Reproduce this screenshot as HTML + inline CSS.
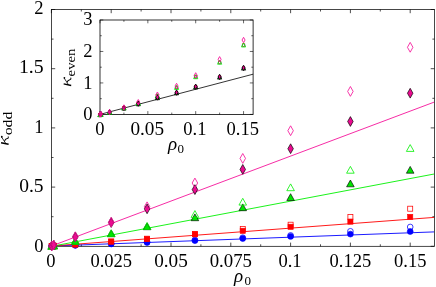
<!DOCTYPE html><html><head><meta charset="utf-8"><style>html,body{margin:0;padding:0;background:#fff}</style></head><body><svg width="436" height="287" viewBox="0 0 436 287" style="display:block;font-family:'Liberation Serif',serif">
<rect width="436" height="287" fill="#fff"/>
<defs><filter id="idf" x="0" y="0" width="436" height="287" filterUnits="userSpaceOnUse" color-interpolation-filters="sRGB"><feOffset dx="0" dy="0"/></filter></defs>
<rect x="51.5" y="9.5" width="382.9" height="236.8" fill="none" stroke="#000" stroke-width="0.72"/>
<path d="M51.40 246.3v-3.7M51.40 9.5v3.7M81.30 246.3v-2M81.30 9.5v2M111.20 246.3v-3.7M111.20 9.5v3.7M141.10 246.3v-2M141.10 9.5v2M171.00 246.3v-3.7M171.00 9.5v3.7M200.90 246.3v-2M200.90 9.5v2M230.80 246.3v-3.7M230.80 9.5v3.7M260.70 246.3v-2M260.70 9.5v2M290.60 246.3v-3.7M290.60 9.5v3.7M320.50 246.3v-2M320.50 9.5v2M350.40 246.3v-3.7M350.40 9.5v3.7M380.30 246.3v-2M380.30 9.5v2M410.20 246.3v-3.7M410.20 9.5v3.7M440.10 246.3v-2M440.10 9.5v2M51.5 246.30h3.7M434.4 246.30h-3.7M51.5 216.70h2M434.4 216.70h-2M51.5 187.10h3.7M434.4 187.10h-3.7M51.5 157.50h2M434.4 157.50h-2M51.5 127.90h3.7M434.4 127.90h-3.7M51.5 98.30h2M434.4 98.30h-2M51.5 68.70h3.7M434.4 68.70h-3.7M51.5 39.10h2M434.4 39.10h-2M51.5 9.50h3.7M434.4 9.50h-3.7" stroke="#000" stroke-width="0.7" fill="none"/>
<clipPath id="c"><rect x="51.5" y="9.5" width="382.9" height="236.8"/></clipPath>
<g clip-path="url(#c)">
<line x1="51.5" y1="246.0" x2="434.2" y2="231.9" stroke="#0000ff" stroke-width="0.9"/>
<line x1="51.5" y1="246.0" x2="434.2" y2="217.4" stroke="#ff0000" stroke-width="0.9"/>
<line x1="51.5" y1="246.35" x2="434.2" y2="174.0" stroke="#00f000" stroke-width="0.9"/>
<line x1="51.5" y1="246.0" x2="434.2" y2="102.1" stroke="#f5149b" stroke-width="0.9"/>
</g>
<circle cx="51.70" cy="246.00" r="2.95" fill="#0000ff" stroke="#0000ff" stroke-width="0.6"/>
<circle cx="53.79" cy="245.90" r="2.95" fill="#0000ff" stroke="#0000ff" stroke-width="0.6"/>
<circle cx="75.32" cy="245.30" r="2.95" fill="#0000ff" stroke="#0000ff" stroke-width="0.6"/>
<circle cx="111.20" cy="243.90" r="2.95" fill="#0000ff" stroke="#0000ff" stroke-width="0.6"/>
<circle cx="147.08" cy="242.40" r="2.95" fill="#0000ff" stroke="#0000ff" stroke-width="0.6"/>
<circle cx="194.92" cy="240.60" r="2.95" fill="#0000ff" stroke="#0000ff" stroke-width="0.6"/>
<circle cx="242.76" cy="238.50" r="2.95" fill="#0000ff" stroke="#0000ff" stroke-width="0.6"/>
<circle cx="290.60" cy="236.40" r="2.95" fill="#0000ff" stroke="#0000ff" stroke-width="0.6"/>
<circle cx="350.40" cy="234.10" r="2.95" fill="#0000ff" stroke="#0000ff" stroke-width="0.6"/>
<circle cx="410.20" cy="231.50" r="2.95" fill="#0000ff" stroke="#0000ff" stroke-width="0.6"/>
<circle cx="51.70" cy="246.00" r="2.85" fill="none" stroke="#0000ff" stroke-width="0.75"/>
<circle cx="53.79" cy="245.90" r="2.85" fill="none" stroke="#0000ff" stroke-width="0.75"/>
<circle cx="75.32" cy="245.30" r="2.85" fill="none" stroke="#0000ff" stroke-width="0.75"/>
<circle cx="111.20" cy="243.80" r="2.85" fill="none" stroke="#0000ff" stroke-width="0.75"/>
<circle cx="147.08" cy="242.20" r="2.85" fill="none" stroke="#0000ff" stroke-width="0.75"/>
<circle cx="194.92" cy="240.00" r="2.85" fill="none" stroke="#0000ff" stroke-width="0.75"/>
<circle cx="242.76" cy="237.70" r="2.85" fill="none" stroke="#0000ff" stroke-width="0.75"/>
<circle cx="290.60" cy="235.40" r="2.85" fill="none" stroke="#0000ff" stroke-width="0.75"/>
<circle cx="350.40" cy="231.30" r="2.85" fill="none" stroke="#0000ff" stroke-width="0.75"/>
<circle cx="410.20" cy="227.00" r="2.85" fill="none" stroke="#0000ff" stroke-width="0.75"/>
<rect x="49.10" y="243.40" width="5.2" height="5.2" fill="#ff0000" stroke="#ff0000" stroke-width="0.6"/>
<rect x="51.19" y="243.20" width="5.2" height="5.2" fill="#ff0000" stroke="#ff0000" stroke-width="0.6"/>
<rect x="72.72" y="241.90" width="5.2" height="5.2" fill="#ff0000" stroke="#ff0000" stroke-width="0.6"/>
<rect x="108.60" y="239.00" width="5.2" height="5.2" fill="#ff0000" stroke="#ff0000" stroke-width="0.6"/>
<rect x="144.48" y="236.40" width="5.2" height="5.2" fill="#ff0000" stroke="#ff0000" stroke-width="0.6"/>
<rect x="192.32" y="231.70" width="5.2" height="5.2" fill="#ff0000" stroke="#ff0000" stroke-width="0.6"/>
<rect x="240.16" y="228.20" width="5.2" height="5.2" fill="#ff0000" stroke="#ff0000" stroke-width="0.6"/>
<rect x="288.00" y="224.20" width="5.2" height="5.2" fill="#ff0000" stroke="#ff0000" stroke-width="0.6"/>
<rect x="347.80" y="219.00" width="5.2" height="5.2" fill="#ff0000" stroke="#ff0000" stroke-width="0.6"/>
<rect x="407.60" y="214.30" width="5.2" height="5.2" fill="#ff0000" stroke="#ff0000" stroke-width="0.6"/>
<rect x="49.20" y="243.50" width="5.0" height="5.0" fill="none" stroke="#ff0000" stroke-width="0.75"/>
<rect x="51.29" y="243.30" width="5.0" height="5.0" fill="none" stroke="#ff0000" stroke-width="0.75"/>
<rect x="72.82" y="242.00" width="5.0" height="5.0" fill="none" stroke="#ff0000" stroke-width="0.75"/>
<rect x="108.70" y="239.00" width="5.0" height="5.0" fill="none" stroke="#ff0000" stroke-width="0.75"/>
<rect x="144.58" y="236.20" width="5.0" height="5.0" fill="none" stroke="#ff0000" stroke-width="0.75"/>
<rect x="192.42" y="231.40" width="5.0" height="5.0" fill="none" stroke="#ff0000" stroke-width="0.75"/>
<rect x="240.26" y="226.50" width="5.0" height="5.0" fill="none" stroke="#ff0000" stroke-width="0.75"/>
<rect x="288.10" y="222.20" width="5.0" height="5.0" fill="none" stroke="#ff0000" stroke-width="0.75"/>
<rect x="347.90" y="214.50" width="5.0" height="5.0" fill="none" stroke="#ff0000" stroke-width="0.75"/>
<rect x="407.70" y="206.20" width="5.0" height="5.0" fill="none" stroke="#ff0000" stroke-width="0.75"/>
<path d="M51.70 242.50L55.50 249.30L47.90 249.30Z" fill="#00e400" stroke="#000" stroke-width="0.65"/>
<path d="M53.79 242.10L57.59 248.90L49.99 248.90Z" fill="#00e400" stroke="#000" stroke-width="0.65"/>
<path d="M75.32 237.60L79.12 244.40L71.52 244.40Z" fill="#00e400" stroke="#000" stroke-width="0.65"/>
<path d="M111.20 229.90L115.00 236.70L107.40 236.70Z" fill="#00e400" stroke="#000" stroke-width="0.65"/>
<path d="M147.08 222.90L150.88 229.70L143.28 229.70Z" fill="#00e400" stroke="#000" stroke-width="0.65"/>
<path d="M194.92 213.90L198.72 220.70L191.12 220.70Z" fill="#00e400" stroke="#000" stroke-width="0.65"/>
<path d="M242.76 203.90L246.56 210.70L238.96 210.70Z" fill="#00e400" stroke="#000" stroke-width="0.65"/>
<path d="M290.60 193.70L294.40 200.50L286.80 200.50Z" fill="#00e400" stroke="#000" stroke-width="0.65"/>
<path d="M350.40 180.00L354.20 186.80L346.60 186.80Z" fill="#00e400" stroke="#000" stroke-width="0.65"/>
<path d="M410.20 166.40L414.00 173.20L406.40 173.20Z" fill="#00e400" stroke="#000" stroke-width="0.65"/>
<path d="M51.70 242.50L55.50 249.30L47.90 249.30Z" fill="none" stroke="#00f000" stroke-width="0.8"/>
<path d="M53.79 242.10L57.59 248.90L49.99 248.90Z" fill="none" stroke="#00f000" stroke-width="0.8"/>
<path d="M75.32 237.60L79.12 244.40L71.52 244.40Z" fill="none" stroke="#00f000" stroke-width="0.8"/>
<path d="M111.20 229.80L115.00 236.60L107.40 236.60Z" fill="none" stroke="#00f000" stroke-width="0.8"/>
<path d="M147.08 222.50L150.88 229.30L143.28 229.30Z" fill="none" stroke="#00f000" stroke-width="0.8"/>
<path d="M194.92 210.60L198.72 217.40L191.12 217.40Z" fill="none" stroke="#00f000" stroke-width="0.8"/>
<path d="M242.76 198.30L246.56 205.10L238.96 205.10Z" fill="none" stroke="#00f000" stroke-width="0.8"/>
<path d="M290.60 183.90L294.40 190.70L286.80 190.70Z" fill="none" stroke="#00f000" stroke-width="0.8"/>
<path d="M350.40 166.40L354.20 173.20L346.60 173.20Z" fill="none" stroke="#00f000" stroke-width="0.8"/>
<path d="M410.20 144.60L414.00 151.40L406.40 151.40Z" fill="none" stroke="#00f000" stroke-width="0.8"/>
<path d="M51.70 241.10L54.45 246.00L51.70 250.90L48.95 246.00Z" fill="#eb0a91" stroke="#000" stroke-width="0.68"/>
<path d="M53.79 240.20L56.54 245.10L53.79 250.00L51.04 245.10Z" fill="#eb0a91" stroke="#000" stroke-width="0.68"/>
<path d="M75.32 232.00L78.07 236.90L75.32 241.80L72.57 236.90Z" fill="#eb0a91" stroke="#000" stroke-width="0.68"/>
<path d="M111.20 217.60L113.95 222.50L111.20 227.40L108.45 222.50Z" fill="#eb0a91" stroke="#000" stroke-width="0.68"/>
<path d="M147.08 203.90L149.83 208.80L147.08 213.70L144.33 208.80Z" fill="#eb0a91" stroke="#000" stroke-width="0.68"/>
<path d="M194.92 184.70L197.67 189.60L194.92 194.50L192.17 189.60Z" fill="#eb0a91" stroke="#000" stroke-width="0.68"/>
<path d="M242.76 164.50L245.51 169.40L242.76 174.30L240.01 169.40Z" fill="#eb0a91" stroke="#000" stroke-width="0.68"/>
<path d="M290.60 143.80L293.35 148.70L290.60 153.60L287.85 148.70Z" fill="#eb0a91" stroke="#000" stroke-width="0.68"/>
<path d="M350.40 116.60L353.15 121.50L350.40 126.40L347.65 121.50Z" fill="#eb0a91" stroke="#000" stroke-width="0.68"/>
<path d="M410.20 88.30L412.95 93.20L410.20 98.10L407.45 93.20Z" fill="#eb0a91" stroke="#000" stroke-width="0.68"/>
<path d="M51.70 241.10L54.45 246.00L51.70 250.90L48.95 246.00Z" fill="none" stroke="#f5149b" stroke-width="0.85"/>
<path d="M53.79 240.20L56.54 245.10L53.79 250.00L51.04 245.10Z" fill="none" stroke="#f5149b" stroke-width="0.85"/>
<path d="M75.32 231.80L78.07 236.70L75.32 241.60L72.57 236.70Z" fill="none" stroke="#f5149b" stroke-width="0.85"/>
<path d="M111.20 217.30L113.95 222.20L111.20 227.10L108.45 222.20Z" fill="none" stroke="#f5149b" stroke-width="0.85"/>
<path d="M147.08 201.90L149.83 206.80L147.08 211.70L144.33 206.80Z" fill="none" stroke="#f5149b" stroke-width="0.85"/>
<path d="M194.92 178.10L197.67 183.00L194.92 187.90L192.17 183.00Z" fill="none" stroke="#f5149b" stroke-width="0.85"/>
<path d="M242.76 153.50L245.51 158.40L242.76 163.30L240.01 158.40Z" fill="none" stroke="#f5149b" stroke-width="0.85"/>
<path d="M290.60 125.80L293.35 130.70L290.60 135.60L287.85 130.70Z" fill="none" stroke="#f5149b" stroke-width="0.85"/>
<path d="M350.40 86.50L353.15 91.40L350.40 96.30L347.65 91.40Z" fill="none" stroke="#f5149b" stroke-width="0.85"/>
<path d="M410.20 42.40L412.95 47.30L410.20 52.20L407.45 47.30Z" fill="none" stroke="#f5149b" stroke-width="0.85"/>
<g filter="url(#idf)">
<text x="50.80" y="267.40" font-size="18.5" text-anchor="middle" >0</text>
<text x="111.20" y="267.40" font-size="18.5" text-anchor="middle" >0.025</text>
<text x="171.00" y="267.40" font-size="18.5" text-anchor="middle" textLength="33.6" lengthAdjust="spacingAndGlyphs">0.05</text>
<text x="230.80" y="267.40" font-size="18.5" text-anchor="middle" textLength="42.3" lengthAdjust="spacingAndGlyphs">0.075</text>
<text x="290.00" y="267.40" font-size="18.5" text-anchor="middle" >0.1</text>
<text x="350.40" y="267.40" font-size="18.5" text-anchor="middle" >0.125</text>
<text x="410.20" y="267.40" font-size="18.5" text-anchor="middle" >0.15</text>
<text x="43.60" y="251.50" font-size="18.5" text-anchor="end" >0</text>
<text x="43.60" y="192.10" font-size="18.5" text-anchor="end" textLength="24.4" lengthAdjust="spacingAndGlyphs">0.5</text>
<text x="43.60" y="132.90" font-size="18.5" text-anchor="end" >1</text>
<text x="43.60" y="73.20" font-size="18.5" text-anchor="end" textLength="24.7" lengthAdjust="spacingAndGlyphs">1.5</text>
<text x="43.60" y="13.70" font-size="18.5" text-anchor="end" >2</text>
<text x="234" y="282" font-size="19" font-style="italic">ρ</text><text x="244.5" y="285" font-size="13">0</text>
<g transform="translate(8.6,144.9) rotate(-90)"><g transform="scale(1.13,1.03)"><path d="M1.9 -7.3L0.5 0" stroke="#000" stroke-width="1.3" fill="none"/><path d="M1.2 -2.7L7.1 -6.9" stroke="#000" stroke-width="0.75" fill="none"/><circle cx="7.2" cy="-6.6" r="0.85" fill="#000"/><path d="M3.2 -4.0Q5.3 -3.4 5.6 -1.4Q5.9 0.2 7.4 -0.5" stroke="#000" stroke-width="0.95" fill="none"/></g><text x="9.6" y="3.4" font-size="12.3" textLength="23.6" lengthAdjust="spacingAndGlyphs">odd</text></g>
</g>
<rect x="100.0" y="20.0" width="153.1" height="94.4" fill="#fff" stroke="#000" stroke-width="0.8"/>
<path d="M100.00 114.4v-3.3M100.00 20.0v3.3M123.92 114.4v-1.8M123.92 20.0v1.8M147.85 114.4v-3.3M147.85 20.0v3.3M171.78 114.4v-1.8M171.78 20.0v1.8M195.70 114.4v-3.3M195.70 20.0v3.3M219.62 114.4v-1.8M219.62 20.0v1.8M243.55 114.4v-3.3M243.55 20.0v3.3M100.0 114.40h3.3M253.1 114.40h-3.3M100.0 98.67h1.8M253.1 98.67h-1.8M100.0 82.93h3.3M253.1 82.93h-3.3M100.0 67.20h1.8M253.1 67.20h-1.8M100.0 51.46h3.3M253.1 51.46h-3.3M100.0 35.73h1.8M253.1 35.73h-1.8M100.0 19.99h3.3M253.1 19.99h-3.3" stroke="#000" stroke-width="0.6" fill="none"/>
<line x1="100.0" y1="114.4" x2="253.1" y2="74.2" stroke="#000" stroke-width="0.8"/>
<circle cx="100.00" cy="114.80" r="1.4" fill="#0000ff" stroke="#0000ff" stroke-width="0.5"/>
<circle cx="100.96" cy="114.55" r="1.4" fill="#0000ff" stroke="#0000ff" stroke-width="0.5"/>
<circle cx="109.57" cy="112.50" r="1.4" fill="#0000ff" stroke="#0000ff" stroke-width="0.5"/>
<circle cx="123.92" cy="108.30" r="1.4" fill="#0000ff" stroke="#0000ff" stroke-width="0.5"/>
<circle cx="138.28" cy="104.00" r="1.4" fill="#0000ff" stroke="#0000ff" stroke-width="0.5"/>
<circle cx="157.42" cy="97.90" r="1.4" fill="#0000ff" stroke="#0000ff" stroke-width="0.5"/>
<circle cx="176.56" cy="93.00" r="1.4" fill="#0000ff" stroke="#0000ff" stroke-width="0.5"/>
<circle cx="195.70" cy="87.10" r="1.4" fill="#0000ff" stroke="#0000ff" stroke-width="0.5"/>
<circle cx="219.62" cy="77.30" r="1.4" fill="#0000ff" stroke="#0000ff" stroke-width="0.5"/>
<circle cx="243.55" cy="68.30" r="1.4" fill="#0000ff" stroke="#0000ff" stroke-width="0.5"/>
<circle cx="100.00" cy="114.80" r="1.4" fill="none" stroke="#0000ff" stroke-width="0.5"/>
<circle cx="100.96" cy="114.55" r="1.4" fill="none" stroke="#0000ff" stroke-width="0.5"/>
<circle cx="109.57" cy="112.40" r="1.4" fill="none" stroke="#0000ff" stroke-width="0.5"/>
<circle cx="123.92" cy="108.00" r="1.4" fill="none" stroke="#0000ff" stroke-width="0.5"/>
<circle cx="138.28" cy="103.20" r="1.4" fill="none" stroke="#0000ff" stroke-width="0.5"/>
<circle cx="157.42" cy="95.90" r="1.4" fill="none" stroke="#0000ff" stroke-width="0.5"/>
<circle cx="176.56" cy="87.60" r="1.4" fill="none" stroke="#0000ff" stroke-width="0.5"/>
<circle cx="195.70" cy="76.90" r="1.4" fill="none" stroke="#0000ff" stroke-width="0.5"/>
<circle cx="219.62" cy="62.40" r="1.4" fill="none" stroke="#0000ff" stroke-width="0.5"/>
<circle cx="243.55" cy="45.15" r="1.4" fill="none" stroke="#0000ff" stroke-width="0.5"/>
<rect x="98.70" y="113.40" width="2.6" height="2.6" fill="#ff0000" stroke="#ff0000" stroke-width="0.5"/>
<rect x="99.66" y="113.15" width="2.6" height="2.6" fill="#ff0000" stroke="#ff0000" stroke-width="0.5"/>
<rect x="108.27" y="111.10" width="2.6" height="2.6" fill="#ff0000" stroke="#ff0000" stroke-width="0.5"/>
<rect x="122.62" y="106.90" width="2.6" height="2.6" fill="#ff0000" stroke="#ff0000" stroke-width="0.5"/>
<rect x="136.98" y="102.60" width="2.6" height="2.6" fill="#ff0000" stroke="#ff0000" stroke-width="0.5"/>
<rect x="156.12" y="96.50" width="2.6" height="2.6" fill="#ff0000" stroke="#ff0000" stroke-width="0.5"/>
<rect x="175.26" y="91.60" width="2.6" height="2.6" fill="#ff0000" stroke="#ff0000" stroke-width="0.5"/>
<rect x="194.40" y="85.70" width="2.6" height="2.6" fill="#ff0000" stroke="#ff0000" stroke-width="0.5"/>
<rect x="218.32" y="75.90" width="2.6" height="2.6" fill="#ff0000" stroke="#ff0000" stroke-width="0.5"/>
<rect x="242.25" y="66.90" width="2.6" height="2.6" fill="#ff0000" stroke="#ff0000" stroke-width="0.5"/>
<rect x="98.70" y="113.40" width="2.6" height="2.6" fill="none" stroke="#ff0000" stroke-width="0.5"/>
<rect x="99.66" y="113.15" width="2.6" height="2.6" fill="none" stroke="#ff0000" stroke-width="0.5"/>
<rect x="108.27" y="111.00" width="2.6" height="2.6" fill="none" stroke="#ff0000" stroke-width="0.5"/>
<rect x="122.62" y="106.60" width="2.6" height="2.6" fill="none" stroke="#ff0000" stroke-width="0.5"/>
<rect x="136.98" y="101.80" width="2.6" height="2.6" fill="none" stroke="#ff0000" stroke-width="0.5"/>
<rect x="156.12" y="94.50" width="2.6" height="2.6" fill="none" stroke="#ff0000" stroke-width="0.5"/>
<rect x="175.26" y="86.20" width="2.6" height="2.6" fill="none" stroke="#ff0000" stroke-width="0.5"/>
<rect x="194.40" y="75.50" width="2.6" height="2.6" fill="none" stroke="#ff0000" stroke-width="0.5"/>
<rect x="218.32" y="61.00" width="2.6" height="2.6" fill="none" stroke="#ff0000" stroke-width="0.5"/>
<rect x="242.25" y="43.75" width="2.6" height="2.6" fill="none" stroke="#ff0000" stroke-width="0.5"/>
<path d="M100.00 112.60L102.10 116.60L97.90 116.60Z" fill="#00e400" stroke="#000" stroke-width="0.8"/>
<path d="M100.96 112.35L103.06 116.35L98.86 116.35Z" fill="#00e400" stroke="#000" stroke-width="0.8"/>
<path d="M109.57 110.30L111.67 114.30L107.47 114.30Z" fill="#00e400" stroke="#000" stroke-width="0.8"/>
<path d="M123.92 106.10L126.02 110.10L121.83 110.10Z" fill="#00e400" stroke="#000" stroke-width="0.8"/>
<path d="M138.28 101.80L140.38 105.80L136.18 105.80Z" fill="#00e400" stroke="#000" stroke-width="0.8"/>
<path d="M157.42 95.70L159.52 99.70L155.32 99.70Z" fill="#00e400" stroke="#000" stroke-width="0.8"/>
<path d="M176.56 90.80L178.66 94.80L174.46 94.80Z" fill="#00e400" stroke="#000" stroke-width="0.8"/>
<path d="M195.70 84.90L197.80 88.90L193.60 88.90Z" fill="#00e400" stroke="#000" stroke-width="0.8"/>
<path d="M219.62 75.10L221.72 79.10L217.53 79.10Z" fill="#00e400" stroke="#000" stroke-width="0.8"/>
<path d="M243.55 66.10L245.65 70.10L241.45 70.10Z" fill="#00e400" stroke="#000" stroke-width="0.8"/>
<path d="M100.00 112.60L102.10 116.60L97.90 116.60Z" fill="none" stroke="#00f000" stroke-width="0.85"/>
<path d="M100.96 112.35L103.06 116.35L98.86 116.35Z" fill="none" stroke="#00f000" stroke-width="0.85"/>
<path d="M109.57 110.20L111.67 114.20L107.47 114.20Z" fill="none" stroke="#00f000" stroke-width="0.85"/>
<path d="M123.92 105.80L126.02 109.80L121.83 109.80Z" fill="none" stroke="#00f000" stroke-width="0.85"/>
<path d="M138.28 101.00L140.38 105.00L136.18 105.00Z" fill="none" stroke="#00f000" stroke-width="0.85"/>
<path d="M157.42 93.70L159.52 97.70L155.32 97.70Z" fill="none" stroke="#00f000" stroke-width="0.85"/>
<path d="M176.56 85.40L178.66 89.40L174.46 89.40Z" fill="none" stroke="#00f000" stroke-width="0.85"/>
<path d="M195.70 74.70L197.80 78.70L193.60 78.70Z" fill="none" stroke="#00f000" stroke-width="0.85"/>
<path d="M219.62 60.20L221.72 64.20L217.53 64.20Z" fill="none" stroke="#00f000" stroke-width="0.85"/>
<path d="M243.55 42.95L245.65 46.95L241.45 46.95Z" fill="none" stroke="#00f000" stroke-width="0.85"/>
<path d="M100.00 111.70L101.50 114.40L100.00 117.10L98.50 114.40Z" fill="#eb0a91" stroke="#000" stroke-width="0.85"/>
<path d="M100.96 111.45L102.46 114.15L100.96 116.85L99.46 114.15Z" fill="#eb0a91" stroke="#000" stroke-width="0.85"/>
<path d="M109.57 109.40L111.07 112.10L109.57 114.80L108.07 112.10Z" fill="#eb0a91" stroke="#000" stroke-width="0.85"/>
<path d="M123.92 105.20L125.42 107.90L123.92 110.60L122.42 107.90Z" fill="#eb0a91" stroke="#000" stroke-width="0.85"/>
<path d="M138.28 100.90L139.78 103.60L138.28 106.30L136.78 103.60Z" fill="#eb0a91" stroke="#000" stroke-width="0.85"/>
<path d="M157.42 94.80L158.92 97.50L157.42 100.20L155.92 97.50Z" fill="#eb0a91" stroke="#000" stroke-width="0.85"/>
<path d="M176.56 89.90L178.06 92.60L176.56 95.30L175.06 92.60Z" fill="#eb0a91" stroke="#000" stroke-width="0.85"/>
<path d="M195.70 84.00L197.20 86.70L195.70 89.40L194.20 86.70Z" fill="#eb0a91" stroke="#000" stroke-width="0.85"/>
<path d="M219.62 74.20L221.12 76.90L219.62 79.60L218.12 76.90Z" fill="#eb0a91" stroke="#000" stroke-width="0.85"/>
<path d="M243.55 65.20L245.05 67.90L243.55 70.60L242.05 67.90Z" fill="#eb0a91" stroke="#000" stroke-width="0.85"/>
<path d="M100.00 111.70L101.50 114.40L100.00 117.10L98.50 114.40Z" fill="none" stroke="#f5149b" stroke-width="0.9"/>
<path d="M100.96 111.45L102.46 114.15L100.96 116.85L99.46 114.15Z" fill="none" stroke="#f5149b" stroke-width="0.9"/>
<path d="M109.57 109.30L111.07 112.00L109.57 114.70L108.07 112.00Z" fill="none" stroke="#f5149b" stroke-width="0.9"/>
<path d="M123.92 104.80L125.42 107.50L123.92 110.20L122.42 107.50Z" fill="none" stroke="#f5149b" stroke-width="0.9"/>
<path d="M138.28 99.50L139.78 102.20L138.28 104.90L136.78 102.20Z" fill="none" stroke="#f5149b" stroke-width="0.9"/>
<path d="M157.42 92.00L158.92 94.70L157.42 97.40L155.92 94.70Z" fill="none" stroke="#f5149b" stroke-width="0.9"/>
<path d="M176.56 83.30L178.06 86.00L176.56 88.70L175.06 86.00Z" fill="none" stroke="#f5149b" stroke-width="0.9"/>
<path d="M195.70 72.70L197.20 75.40L195.70 78.10L194.20 75.40Z" fill="none" stroke="#f5149b" stroke-width="0.9"/>
<path d="M219.62 56.60L221.12 59.30L219.62 62.00L218.12 59.30Z" fill="none" stroke="#f5149b" stroke-width="0.9"/>
<path d="M243.55 37.30L245.05 40.00L243.55 42.70L242.05 40.00Z" fill="none" stroke="#f5149b" stroke-width="0.9"/>
<g filter="url(#idf)">
<text x="99.90" y="135.40" font-size="18.5" text-anchor="middle" >0</text>
<text x="147.25" y="135.40" font-size="18.5" text-anchor="middle" textLength="33.6" lengthAdjust="spacingAndGlyphs">0.05</text>
<text x="194.90" y="135.40" font-size="18.5" text-anchor="middle" >0.1</text>
<text x="242.80" y="135.40" font-size="18.5" text-anchor="middle" >0.15</text>
<text x="92.50" y="119.70" font-size="18.5" text-anchor="end" >0</text>
<text x="92.50" y="88.70" font-size="18.5" text-anchor="end" >1</text>
<text x="92.50" y="57.40" font-size="18.5" text-anchor="end" >2</text>
<text x="92.50" y="25.30" font-size="18.5" text-anchor="end" >3</text>
<text x="168" y="149.8" font-size="19" font-style="italic">ρ</text><text x="177.6" y="152.8" font-size="13">0</text>
<g transform="translate(71.2,86.0) rotate(-90)"><g transform="scale(1.13,1.03)"><path d="M1.9 -7.3L0.5 0" stroke="#000" stroke-width="1.3" fill="none"/><path d="M1.2 -2.7L7.1 -6.9" stroke="#000" stroke-width="0.75" fill="none"/><circle cx="7.2" cy="-6.6" r="0.85" fill="#000"/><path d="M3.2 -4.0Q5.3 -3.4 5.6 -1.4Q5.9 0.2 7.4 -0.5" stroke="#000" stroke-width="0.95" fill="none"/></g><text x="9.6" y="3.5" font-size="12.6" textLength="27.8" lengthAdjust="spacingAndGlyphs">even</text></g>
</g>
</svg></body></html>
